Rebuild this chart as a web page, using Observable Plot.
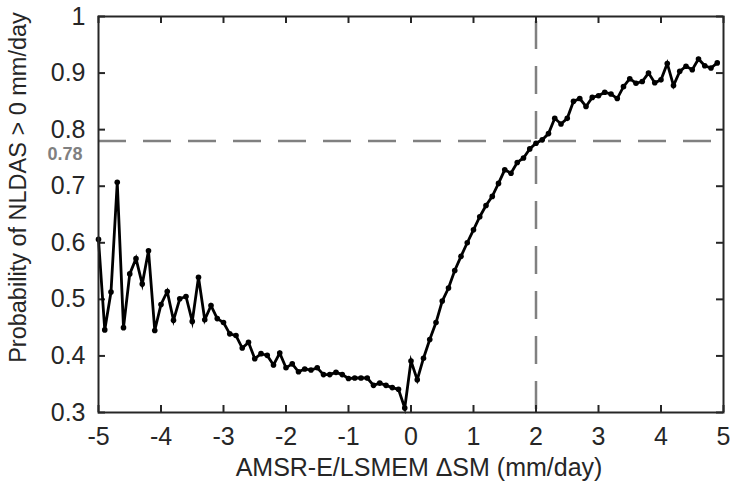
<!DOCTYPE html>
<html>
<head>
<meta charset="utf-8">
<script src="https://cdn.jsdelivr.net/npm/d3@7"></script>
<script src="https://cdn.jsdelivr.net/npm/@observablehq/plot@0.6"></script>
<style>
  html, body { margin: 0; padding: 0; background: #fff; }
  #chart svg { display: block; }
</style>
</head>
<body>
<div id="chart"></div>
<script>
const xValues = [
  -5.0, -4.9, -4.8, -4.7, -4.6, -4.5, -4.4, -4.3, -4.2, -4.1,
  -4.0, -3.9, -3.8, -3.7, -3.6, -3.5, -3.4, -3.3, -3.2, -3.1,
  -3.0, -2.9, -2.8, -2.7, -2.6, -2.5, -2.4, -2.3, -2.2, -2.1,
  -2.0, -1.9, -1.8, -1.7, -1.6, -1.5, -1.4, -1.3, -1.2, -1.1,
  -1.0, -0.9, -0.8, -0.7, -0.6, -0.5, -0.4, -0.3, -0.2, -0.1,
  0.0, 0.1, 0.2, 0.3, 0.4, 0.5, 0.6, 0.7, 0.8, 0.9,
  1.0, 1.1, 1.2, 1.3, 1.4, 1.5, 1.6, 1.7, 1.8, 1.9,
  2.0, 2.1, 2.2, 2.3, 2.4, 2.5, 2.6, 2.7, 2.8, 2.9,
  3.0, 3.1, 3.2, 3.3, 3.4, 3.5, 3.6, 3.7, 3.8, 3.9,
  4.0, 4.1, 4.2, 4.3, 4.4, 4.5, 4.6, 4.7, 4.8, 4.9
];
const probability = [
  0.606, 0.446, 0.513, 0.707, 0.450, 0.545, 0.572, 0.527, 0.586, 0.445,
  0.491, 0.514, 0.463, 0.501, 0.505, 0.461, 0.539, 0.464, 0.489, 0.466,
  0.459, 0.439, 0.436, 0.414, 0.424, 0.395, 0.404, 0.401, 0.384, 0.405,
  0.379, 0.386, 0.372, 0.377, 0.375, 0.379, 0.367, 0.367, 0.371, 0.367,
  0.360, 0.361, 0.361, 0.361, 0.348, 0.352, 0.348, 0.344, 0.341, 0.308,
  0.391, 0.358, 0.396, 0.429, 0.459, 0.497, 0.520, 0.551, 0.576, 0.600,
  0.623, 0.646, 0.666, 0.682, 0.705, 0.729, 0.723, 0.742, 0.750, 0.766,
  0.776, 0.782, 0.793, 0.820, 0.810, 0.820, 0.850, 0.855, 0.841, 0.857,
  0.860, 0.866, 0.863, 0.855, 0.876, 0.890, 0.882, 0.885, 0.900, 0.883,
  0.888, 0.917, 0.878, 0.903, 0.912, 0.906, 0.925, 0.913, 0.909, 0.918
];
const xTicks = [-5, -4, -3, -2, -1, 0, 1, 2, 3, 4, 5];
const yTicks = [0.3, 0.4, 0.5, 0.6, 0.7, 0.8, 0.9, 1];
const thresholdX = [2];
const thresholdY = [0.78];
const thresholdLabel = ["0.78"];
const xTitle = "AMSR-E/LSMEM ΔSM (mm/day)";
const yTitle = "Probability of NLDAS > 0 mm/day";

const data = xValues.map((x, i) => ({x, y: probability[i]}));

const W = 731, H = 486;
const mL = 98, mR = 8, mT = 16, mB = 74;
const plotW = W - mL - mR, plotH = H - mT - mB;
const tick = 7;
const font = "'Liberation Sans', Arial, Helvetica, sans-serif";
const frameColor = "#262626";
const dashColor = "#808080";

const chart = Plot.plot({
  width: W,
  height: H,
  marginLeft: mL,
  marginRight: mR,
  marginTop: mT,
  marginBottom: mB,
  style: {fontFamily: font, background: "#fff", color: frameColor},
  x: {domain: [-5, 5]},
  y: {domain: [0.3, 1]},
  marks: [
    // dashed threshold lines
    Plot.ruleY(thresholdY, {stroke: dashColor, strokeWidth: 2.5, strokeDasharray: "28,17"}),
    Plot.ruleX(thresholdX, {stroke: dashColor, strokeWidth: 2.5, strokeDasharray: "28,17", strokeDashoffset: -5}),
    // inward ticks on all four sides
    Plot.tickX(xTicks, {x: d => d, stroke: frameColor, strokeWidth: 2, insetTop: plotH - tick}),
    Plot.tickX(xTicks, {x: d => d, stroke: frameColor, strokeWidth: 2, insetBottom: plotH - tick}),
    Plot.tickY(yTicks, {y: d => d, stroke: frameColor, strokeWidth: 2, insetRight: plotW - tick}),
    Plot.tickY(yTicks, {y: d => d, stroke: frameColor, strokeWidth: 2, insetLeft: plotW - tick}),
    // data line with markers
    Plot.line(data, {x: "x", y: "y", stroke: "#000", strokeWidth: 2.8, strokeLinejoin: "miter", strokeMiterlimit: 6}),
    Plot.dot(data, {x: "x", y: "y", r: 2.8, fill: "#000", stroke: "none"}),
    Plot.frame({stroke: frameColor, strokeWidth: 2}),
    // tick labels
    Plot.axisX({ticks: xTicks, tickSize: 0, tickPadding: 15, tickFormat: d => String(d), fontSize: 25, label: null, color: frameColor}),
    Plot.axisY({ticks: yTicks, tickSize: 0, tickPadding: 13, tickFormat: d => String(d), fontSize: 25, label: null, color: frameColor}),
    // threshold label
    Plot.text(thresholdLabel, {y: thresholdY, frameAnchor: "left", textAnchor: "end", lineAnchor: "middle", dx: -16, dy: 13, fill: dashColor, fontWeight: "bold", fontSize: 18}),
    // axis titles
    Plot.text([xTitle], {frameAnchor: "bottom", textAnchor: "middle", lineAnchor: "middle", dx: 8, dy: 55, fontSize: 25, fill: frameColor}),
    Plot.text([yTitle], {frameAnchor: "left", textAnchor: "middle", lineAnchor: "middle", rotate: -90, dx: -80, dy: -27, fontSize: 23.5, fill: frameColor})
  ]
});

document.getElementById("chart").appendChild(chart);
</script>
</body>
</html>
